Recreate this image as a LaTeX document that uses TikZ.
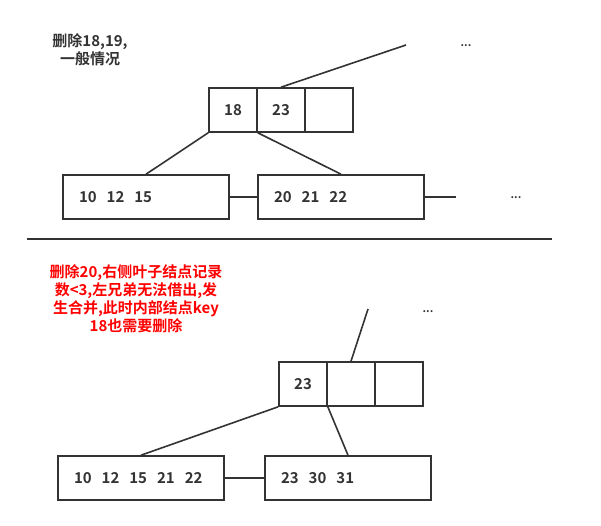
\documentclass[tikz,border=0pt]{standalone}
\usepackage{fontspec}
\usepackage{xcolor}
\usepackage{tikz}
\usetikzlibrary{positioning}
\setmainfont{Noto Sans CJK SC}[BoldFont={Noto Sans CJK SC Bold}]

\definecolor{linegray}{HTML}{333333}

\tikzset{
	cell/.style={draw=linegray, line width=1.6pt, minimum width=48pt, minimum height=44pt, inner sep=0pt, font=\bfseries\fontsize{15}{17}\selectfont, text=linegray},
	leaf/.style={draw=linegray, line width=1.6pt, minimum height=44pt, text width=134pt, inner xsep=16pt, inner ysep=0pt, align=left, font=\bfseries\fontsize{15}{17}\selectfont, text=linegray},
	link/.style={draw=linegray, line width=1.6pt},
	note/.style={align=center, font=\bfseries\fontsize{15}{18}\selectfont},
	dots/.style={font=\bfseries\fontsize{11}{13}\selectfont, text=linegray}
}
\newcommand{\gap}{\hspace{10pt}}

\begin{document}
\begin{tikzpicture}[x=1pt, y=-1pt]
		\useasboundingbox (0,0) rectangle (601,526);

		% Case 1 note
		\node[note, text=linegray] (noteA) at (90,50) {删除18,19,\\一般情况};

		% Internal node (upper)
		\node[cell] (k18) at (233,110) {18};
		\node[cell] (k23) at (281,110) {23};
		\node[cell] (kE) at (329,110) {};
		\coordinate (upA) at (406,45);
		\node[dots] (dotsA) at (466,46) {...};
		\draw[link] (k23.north) -- (upA);

		% Leaves (upper)
		\node[leaf] (leafA) at (146,197) {10\gap 12\gap 15};
		\node[leaf] (leafB) at (341,197) {20\gap 21\gap 22};
		\coordinate (nextA) at (456,197);
		\node[dots] (dotsB) at (516,198) {...};
		\draw[link] (k18.south west) -- (leafA.north);
		\draw[link] (k18.south east) -- (leafB.north);
		\draw[link] (leafA.east) -- (leafB.west);
		\draw[link] (leafB.east) -- (nextA);

		% Separator
		\coordinate (sepL) at (27,239);
		\coordinate (sepR) at (552,239);
		\draw[link] (sepL) -- (sepR);

		% Case 2 note
		\node[note, text=red] (noteB) at (136,299) {删除20,右侧叶子结点记录\\数<3,左兄弟无法借出,发\\生合并,此时内部结点key\\18也需要删除};

		% Internal node (lower)
		\node[cell] (m23) at (303,384) {23};
		\node[cell] (mE1) at (351,384) {};
		\node[cell] (mE2) at (399,384) {};
		\coordinate (upB) at (368,309);
		\node[dots] (dotsC) at (428,312) {...};
		\draw[link] (mE1.north) -- (upB);

		% Leaves (lower)
		\node[leaf] (leafC) at (141,478) {10\gap 12\gap 15\gap 21\gap 22};
		\node[leaf] (leafD) at (348,478) {23\gap 30\gap 31};
		\draw[link] (m23.south west) -- (leafC.north);
		\draw[link] (m23.south east) -- (leafD.north);
		\draw[link] (leafC.east) -- (leafD.west);

	\end{tikzpicture}
\end{document}
